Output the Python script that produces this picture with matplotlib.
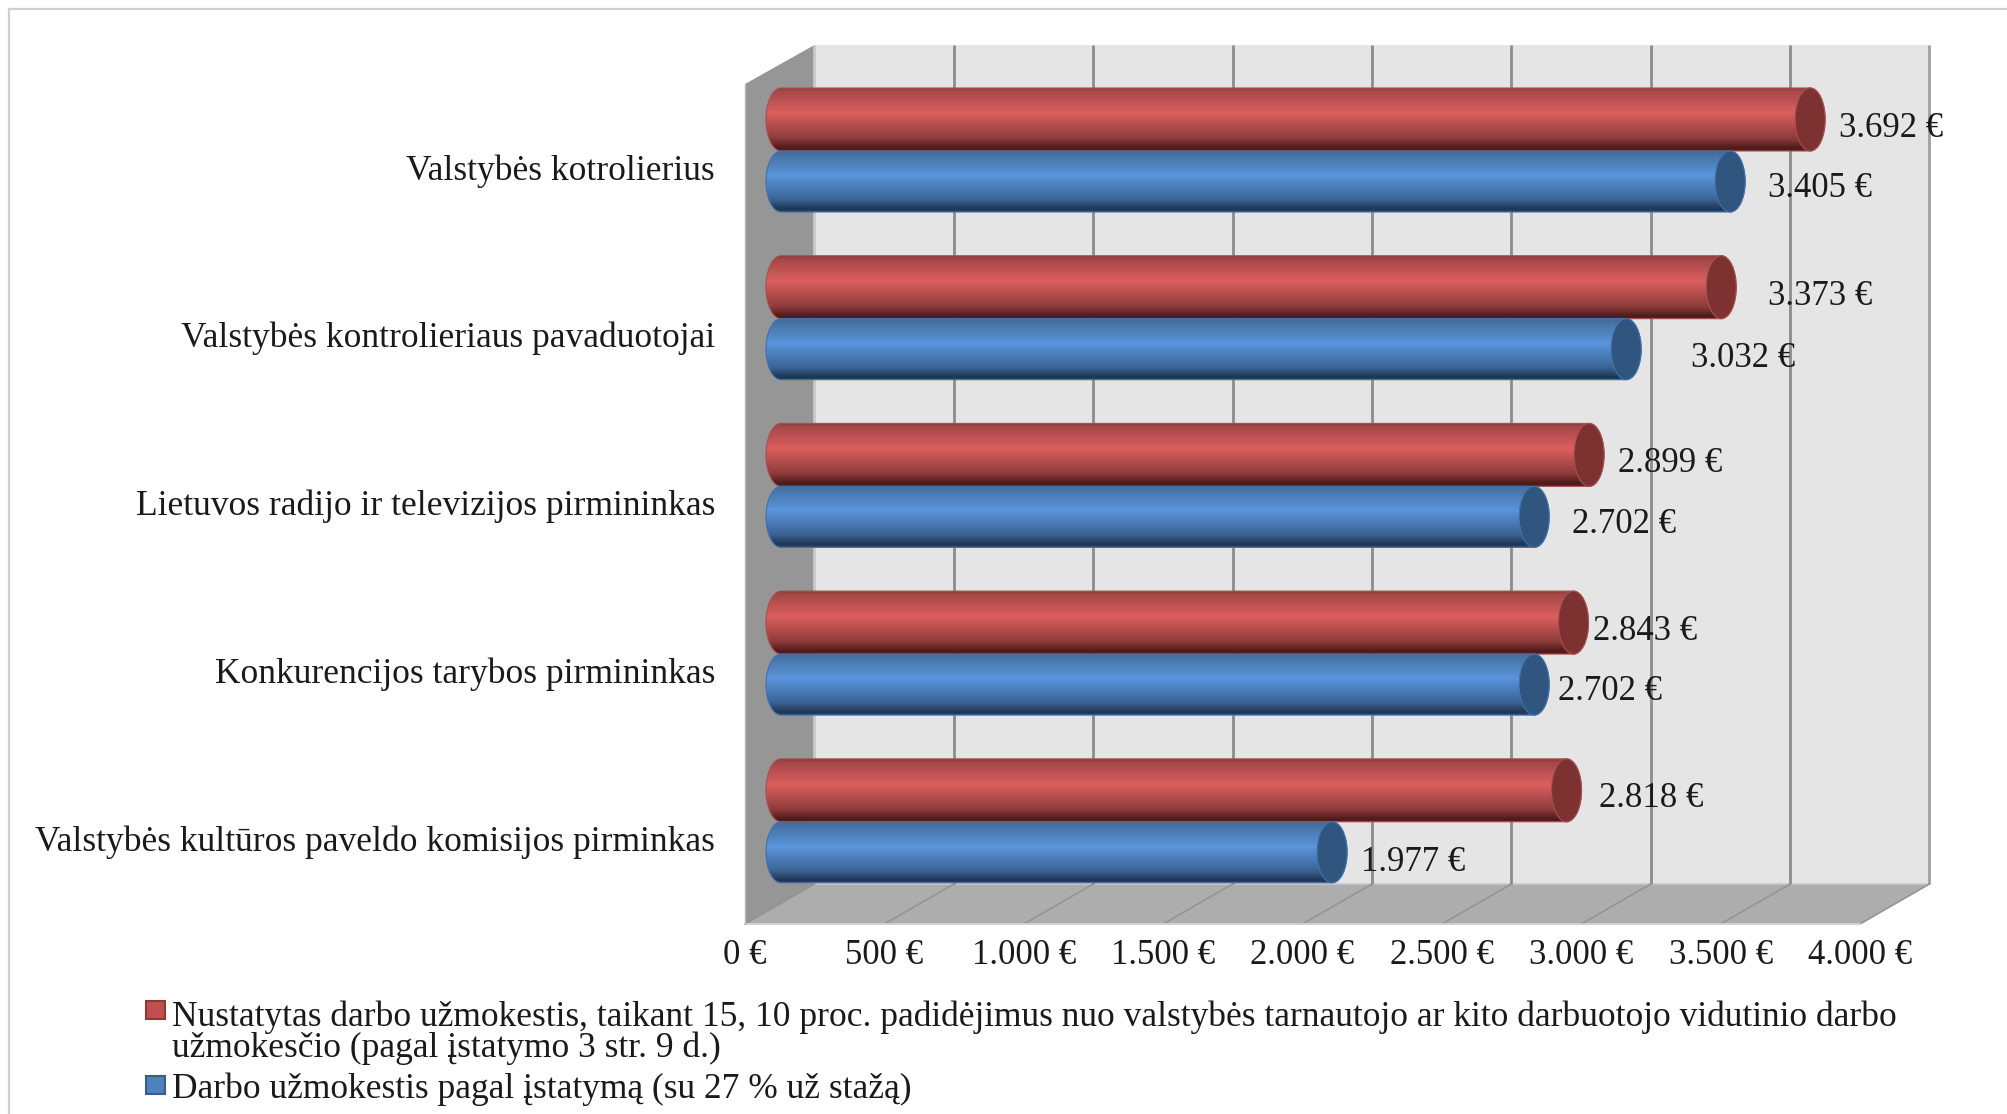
import numpy as np
import matplotlib
matplotlib.use("Agg")
import matplotlib.pyplot as plt
from matplotlib.colors import LinearSegmentedColormap
from matplotlib.patches import Ellipse, PathPatch, Polygon, Patch, Rectangle
from matplotlib.path import Path

categories = ["Valstybės kotrolierius", "Valstybės kontrolieriaus pavaduotojai",
              "Lietuvos radijo ir televizijos pirmininkas", "Konkurencijos tarybos pirmininkas",
              "Valstybės kultūros paveldo komisijos pirminkas"]
nustatytas = [3692, 3373, 2899, 2843, 2818]
pagal_istatyma = [3405, 3032, 2702, 2702, 1977]
ticks = [0, 500, 1000, 1500, 2000, 2500, 3000, 3500, 4000]
tick_labels = ["0 €", "500 €", "1.000 €", "1.500 €", "2.000 €", "2.500 €", "3.000 €", "3.500 €", "4.000 €"]
legend_labels = ["Nustatytas darbo užmokestis, taikant 15, 10 proc. padidėjimus nuo valstybės tarnautojo ar kito darbuotojo vidutinio darbo\nužmokesčio (pagal įstatymo 3 str. 9 d.)",
                 "Darbo užmokestis pagal įstatymą (su 27 % už stažą)"]

W, H = 2007, 1114
plt.rcParams["font.family"] = ["Liberation Serif", "DejaVu Serif"]
fig = plt.figure(figsize=(W/100, H/100), dpi=100, facecolor="white")
ax = fig.add_axes([0, 0, 1, 1])
K = 1115/4000          # px per euro
SP = 167.7             # px per category
X0, Y0 = 781, 151
ax.set_xlim(-X0/K, (W-X0)/K)
ax.set_ylim((H-Y0)/SP, -Y0/SP)
ax.axis("off")
ux = 1/K; uy = 1/SP    # data units per px
TXT = "#1a1a1a"

# frame
ax.plot([(9-X0)*ux, (9-X0)*ux], [(H-Y0)*uy, (9-Y0)*uy], color="#cfcfcf", lw=1.6)
ax.plot([(9-X0)*ux, (W-X0)*ux], [(9-Y0)*uy, (9-Y0)*uy], color="#cfcfcf", lw=1.6)

# 3-D box, in chart units
d_back = 120
d_front = 129
ytop = (45-Y0)*uy; ybot = (884-Y0)*uy; yfront = (924-Y0)*uy; yside = (84-Y0)*uy
ax.add_patch(Rectangle((d_back, ytop), 4000, ybot-ytop, fc="#e5e5e5", ec="none", zorder=1))
ax.add_patch(Polygon([(-d_front, yside), (d_back, ytop), (d_back, ybot), (-d_front, yfront)], fc="#969696", ec="none", zorder=1))
ax.add_patch(Polygon([(-d_front, yfront), (d_back, ybot), (4000+d_back, ybot), (4000-d_front, yfront)], fc="#adadad", ec="none", zorder=1))
ax.plot([d_back, 4000+d_back], [ybot, ybot], color="#c8c8c8", lw=1.2, zorder=1.5)
for t in ticks:
    col = "#c8c8c8" if t == 0 else ("#a0a0a0" if t == 4000 else "#8c8c8c")
    ax.plot([t+d_back, t+d_back], [ytop, ybot], color=col, lw=2.0, zorder=2, solid_capstyle="butt")
    ax.plot([t-d_front, t+d_back], [yfront, ybot], color="#949494", lw=1.2, zorder=2)
ax.plot([-d_front, 4000-d_front], [yfront, yfront], color="#d0d0d0", lw=1.4, zorder=2)
ax.plot([-d_front, -d_front], [yside, yfront], color="#b8b8b8", lw=1, zorder=2)

red_cm = LinearSegmentedColormap.from_list("r", [(0, "#8a3a3a"), (.04, "#a34646"), (.40, "#dc5f5f"), (.8, "#8f3c3c"), (.96, "#4e1a1a"), (1, "#5a1f1f")])
blue_cm = LinearSegmentedColormap.from_list("b", [(0, "#3f6aa5"), (.04, "#44709f"), (.40, "#5b95dc"), (.8, "#3a6495"), (.96, "#1f3450"), (1, "#2a4a75")])
grad = np.linspace(0, 1, 128).reshape(-1, 1)

BH = 63*uy      # bar thickness
BH2 = 61*uy     # lower bar thickness
CW = 30*ux      # end-cap width

def bar(val, ytop_, th, cmap, cap, edge):
    ymid = ytop_ + th/2
    r = CW/2; h = th/2; c = 0.5523
    verts = [(0, ytop_), (val, ytop_),
             (val+c*r, ytop_), (val+r, ymid-c*h), (val+r, ymid),
             (val+r, ymid+c*h), (val+c*r, ytop_+th), (val, ytop_+th),
             (0, ytop_+th),
             (-c*r, ytop_+th), (-r, ymid+c*h), (-r, ymid),
             (-r, ymid-c*h), (-c*r, ytop_), (0, ytop_), (0, ytop_)]
    codes = [Path.MOVETO, Path.LINETO, Path.CURVE4, Path.CURVE4, Path.CURVE4, Path.CURVE4, Path.CURVE4, Path.CURVE4,
             Path.LINETO, Path.CURVE4, Path.CURVE4, Path.CURVE4, Path.CURVE4, Path.CURVE4, Path.CURVE4, Path.CLOSEPOLY]
    path = Path(verts, codes)
    im = ax.imshow(grad, cmap=cmap, aspect="auto", extent=(-r, val+r, ytop_+th, ytop_), zorder=3, interpolation="bilinear")
    clip = PathPatch(path, transform=ax.transData, fc="none", ec="none")
    ax.add_patch(clip)
    im.set_clip_path(clip)
    ax.add_patch(PathPatch(path, fc="none", ec=edge, lw=0.8, zorder=3.1))
    ax.add_patch(Ellipse((val, ymid), CW, th, fc=cap, ec=edge, lw=0.8, zorder=3.2))

red_dx = [29, 47, 29, 20, 32]; red_dy = [9, 9, 9, 9, 8]
blue_dx = [38, 65, 38, 24, 29]; blue_dy = [6, 8, 7, 6, 9]
for i in range(5):
    bar(nustatytas[i], i-BH, BH, red_cm, "#7d3131", "#a85050")
    bar(pagal_istatyma[i], i, BH2, blue_cm, "#30557f", "#3f72ad")
    ax.annotate(f"{nustatytas[i]:,} €".replace(",", "."), (nustatytas[i], i-BH/2), xytext=(red_dx[i]*.72, -red_dy[i]*.72),
                textcoords="offset points", ha="left", va="center", fontsize=25, color=TXT, zorder=5)
    ax.annotate(f"{pagal_istatyma[i]:,} €".replace(",", "."), (pagal_istatyma[i], i+BH/2), xytext=(blue_dx[i]*.72, -blue_dy[i]*.72),
                textcoords="offset points", ha="left", va="center", fontsize=25, color=TXT, zorder=5)
    ax.text((715-X0)*ux, i+20*uy, categories[i], ha="right", va="center", fontsize=25.6, color=TXT)

for t, l in zip(ticks, tick_labels):
    ax.text(t-d_front, (956-Y0)*uy, l, ha="center", va="center", fontsize=25, color=TXT)

ax.set_xlim(-X0/K, (W-X0)/K)
ax.set_ylim((H-Y0)/SP, -Y0/SP)

handles = [Patch(fc="#c0504d", ec="#8c3836", lw=1.5), Patch(fc="#4f81bd", ec="#385d8a", lw=1.5)]
leg = ax.legend(handles, legend_labels, loc="lower left", bbox_to_anchor=(146/W, 8/H), bbox_transform=fig.transFigure,
                frameon=False, fontsize=25.5, handlelength=0.54, handleheight=0.4, handletextpad=0.2,
                labelspacing=0.2, borderpad=0, borderaxespad=0)
for t in leg.get_texts():
    t.set_linespacing(0.93)
    t.set_color(TXT)
h0 = leg.legend_handles[0]
h0.set_y(h0.get_y() + 16)
fig.savefig("out.png", dpi=100, facecolor="white")
